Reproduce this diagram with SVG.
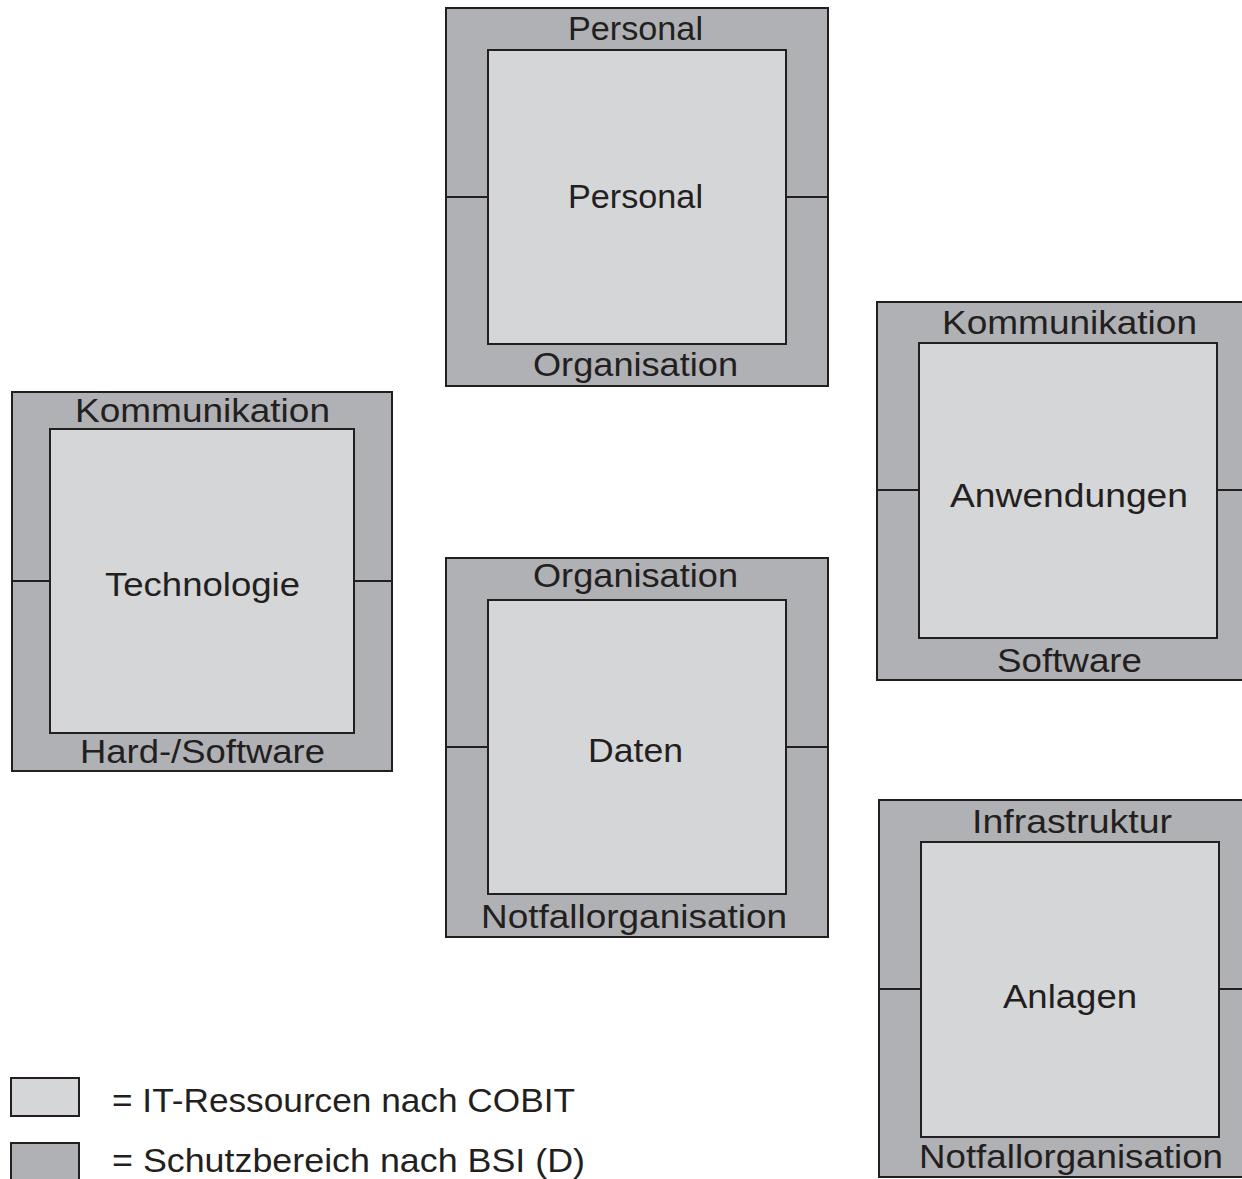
<svg xmlns="http://www.w3.org/2000/svg" width="1242" height="1179" viewBox="0 0 1242 1179">
<style>
.outer{fill:#b0b1b4;stroke:#231f20;stroke-width:2}
.inner{fill:#d5d6d8;stroke:#231f20;stroke-width:2}
.div{stroke:#231f20;stroke-width:2;fill:none}
text{font-family:"Liberation Sans",Arial,sans-serif;font-size:34px;fill:#231f20}
</style>
<rect width="1242" height="1179" fill="#ffffff"/>
<g id="node-personal">
<rect class="outer" x="446" y="8" width="382" height="378"/>
<path class="div" d="M446 197H488M786 197H828"/>
<rect class="inner" x="488" y="50" width="298" height="294"/>
<text x="568" y="40" textLength="135" lengthAdjust="spacingAndGlyphs">Personal</text>
<text x="568" y="208" textLength="135" lengthAdjust="spacingAndGlyphs">Personal</text>
<text x="533" y="376" textLength="205" lengthAdjust="spacingAndGlyphs">Organisation</text>
</g>
<g id="node-technologie">
<rect class="outer" x="12" y="392" width="380" height="379"/>
<path class="div" d="M12 581H50M354 581H392"/>
<rect class="inner" x="50" y="429" width="304" height="304"/>
<text x="75" y="422" textLength="255" lengthAdjust="spacingAndGlyphs">Kommunikation</text>
<text x="105" y="596" textLength="195" lengthAdjust="spacingAndGlyphs">Technologie</text>
<text x="80" y="763" textLength="245" lengthAdjust="spacingAndGlyphs">Hard-/Software</text>
</g>
<g id="node-anwendungen">
<rect class="outer" x="877" y="302" width="382" height="378"/>
<path class="div" d="M877 490H919M1217 490H1259"/>
<rect class="inner" x="919" y="343" width="298" height="295"/>
<text x="942" y="334" textLength="255" lengthAdjust="spacingAndGlyphs">Kommunikation</text>
<text x="950" y="507" textLength="238" lengthAdjust="spacingAndGlyphs">Anwendungen</text>
<text x="997" y="672" textLength="145" lengthAdjust="spacingAndGlyphs">Software</text>
</g>
<g id="node-daten">
<rect class="outer" x="446" y="558" width="382" height="379"/>
<path class="div" d="M446 747H488M786 747H828"/>
<rect class="inner" x="488" y="600" width="298" height="294"/>
<text x="533" y="587" textLength="205" lengthAdjust="spacingAndGlyphs">Organisation</text>
<text x="588" y="762" textLength="95" lengthAdjust="spacingAndGlyphs">Daten</text>
<text x="481" y="928" textLength="306" lengthAdjust="spacingAndGlyphs">Notfallorganisation</text>
</g>
<g id="node-anlagen">
<rect class="outer" x="879" y="800" width="382" height="377"/>
<path class="div" d="M879 989H921M1219 989H1261"/>
<rect class="inner" x="921" y="842" width="298" height="295"/>
<text x="972" y="833" textLength="200" lengthAdjust="spacingAndGlyphs">Infrastruktur</text>
<text x="1003" y="1008" textLength="134" lengthAdjust="spacingAndGlyphs">Anlagen</text>
<text x="919" y="1168" textLength="304" lengthAdjust="spacingAndGlyphs">Notfallorganisation</text>
</g>
<g id="legend">
<rect class="inner" x="11" y="1078" width="68" height="38"/>
<text x="112" y="1112" textLength="463" lengthAdjust="spacingAndGlyphs">= IT-Ressourcen nach COBIT</text>
<rect class="outer" x="11" y="1143" width="68" height="48"/>
<text x="112" y="1172" textLength="473" lengthAdjust="spacingAndGlyphs">= Schutzbereich nach BSI (D)</text>
</g>
</svg>
